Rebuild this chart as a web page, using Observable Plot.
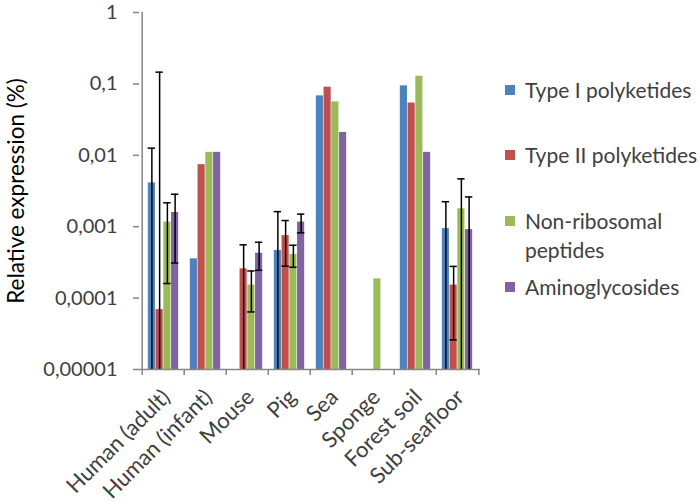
<!DOCTYPE html>
<html>
<head>
<meta charset="utf-8">
<script src="https://cdn.jsdelivr.net/npm/d3@7"></script>
<script src="https://cdn.jsdelivr.net/npm/@observablehq/plot@0.6"></script>
<style>
  html, body { margin: 0; padding: 0; background: #fff; }
  #wrap { position: relative; width: 700px; height: 503px; font-family: Lato, sans-serif; }
  #legend { position: absolute; left: 0; top: 0; width: 700px; height: 503px; pointer-events: none; }
  .li { position: absolute; left: 505px; font-size: 21px; color: #404040; line-height: 29px; }
  .sw { position: absolute; left: 0; top: 10px; width: 10px; height: 10px; }
  .tx { position: absolute; left: 20px; top: 0; white-space: nowrap; }
</style>
</head>
<body>
<div id="wrap"><div id="chart"></div><div id="legend"></div></div>
<script>
// ---- data ----
const categories = ["Human (adult)", "Human (infant)", "Mouse", "Pig", "Sea", "Sponge", "Forest soil", "Sub-seafloor"];
const series = ["Type I polyketides", "Type II polyketides", "Non-ribosomal peptides", "Aminoglycosides"];
const legendLines = [["Type I polyketides"], ["Type II polyketides"], ["Non-ribosomal", "peptides"], ["Aminoglycosides"]];
const colors = ["#4F81BD", "#C0504D", "#9BBB59", "#8064A2"];

const typeI    = [0.0041,   0.000355, null,     0.000465, 0.068,  null,     0.094, 0.00094];
const typeII   = [0.000069, 0.0074,   0.000257, 0.00075,  0.090,  null,     0.054, 0.000152];
const nrp      = [0.00116,  0.011,    0.000152, 0.00041,  0.056,  0.000186, 0.128, 0.00178];
const amino    = [0.00158,  0.011,    0.000425, 0.00116,  0.0209, null,     0.011, 0.00091];

const typeIErr  = [0.0085,  null, null,     0.00116, null, null, null, 0.0013];
const typeIIErr = [0.146,   null, 0.0003,   0.00047, null, null, null, 0.000126];
const nrpErr    = [0.001,   null, 0.000088, 0.00014, null, null, null, 0.0029];
const aminoErr  = [0.00127, null, 0.00018,  0.00034, null, null, null, 0.0017];

const yTicks = [1, 0.1, 0.01, 0.001, 0.0001, 0.00001];
const yTickLabels = ["1", "0,1", "0,01", "0,001", "0,0001", "0,00001"];
const yLabel = "Relative expression (%)";

// ---- build table ----
const values = [typeI, typeII, nrp, amino];
const errs = [typeIErr, typeIIErr, nrpErr, aminoErr];
const yMin = 0.00001, yMax = 1;
const rows = [];
series.forEach((s, si) => categories.forEach((c, ci) => {
  const v = values[si][ci];
  if (v == null) return;
  const e = errs[si][ci];
  rows.push({series: s, si, category: c, value: v, err: e,
    lo: e == null ? null : Math.max(v - e, yMin), hi: e == null ? null : v + e});
}));

// ---- layout ----
const W = 700, H = 503, mL = 139, mR = 220, mT = 12, mB = 134;
const bw = (W - mL - mR) / categories.length;
const barW = 7.75, capW = 8;
const pad = (bw - 4 * barW) / 2;

const marks = [];
series.forEach((s, si) => {
  const d = rows.filter(r => r.si === si);
  const de = d.filter(r => r.err != null);
  const center = -bw / 2 + pad + barW * (si + 0.5);
  marks.push(Plot.barY(d, {x: "category", y1: () => yMin, y2: "value", fill: colors[si],
    insetLeft: pad + barW * si, insetRight: pad + barW * (3 - si)}));
  marks.push(Plot.ruleX(de, {x: "category", y1: "lo", y2: "hi", dx: center, stroke: "#000", strokeWidth: 1.5, clip: true}));
  const capL = pad + barW * si + (barW - capW) / 2;
  marks.push(Plot.tickY(de, {x: "category", y: "hi", stroke: "#000", strokeWidth: 1.5,
    insetLeft: capL, insetRight: bw - capL - capW}));
  marks.push(Plot.tickY(de.filter(r => r.value - r.err > yMin), {x: "category", y: "lo", stroke: "#000", strokeWidth: 1.5,
    insetLeft: capL, insetRight: bw - capL - capW}));
});

const chart = Plot.plot({
  width: W, height: H,
  marginLeft: mL, marginRight: mR, marginTop: mT, marginBottom: mB,
  style: {fontFamily: "Lato, sans-serif", fontSize: "20px", color: "#404040", background: "#fff"},
  x: {domain: categories, padding: 0},
  y: {type: "log", domain: [yMin, yMax]},
  marks: [
    ...marks,
    // axis lines
    Plot.ruleX([yMin], {x: () => categories[0], dx: -bw / 2, y1: yMin, y2: yMax, stroke: "#868686", strokeWidth: 1.5}),
    Plot.ruleY([yMin], {stroke: "#868686", strokeWidth: 1.5}),
    // x boundary ticks
    Plot.ruleX(categories, {x: d => d, dx: -bw / 2, y1: () => yMin, y2: () => yMin, insetTop: 6, stroke: "#868686", strokeWidth: 1.5}),
    Plot.ruleX([categories[categories.length - 1]], {x: d => d, dx: bw / 2, y1: () => yMin, y2: () => yMin, insetTop: 6, stroke: "#868686", strokeWidth: 1.5}),
    Plot.axisY({ticks: yTicks, tickFormat: d => yTickLabels[yTicks.indexOf(d)] ?? "", tickSize: 6, tickPadding: 16,
      stroke: "#868686", strokeWidth: 1.5, label: null}),
    Plot.axisX({tickSize: 0, tickRotate: -45, tickPadding: 24, dx: 3, fontSize: 22, label: null}),
    Plot.text([yLabel], {frameAnchor: "left", textAnchor: "middle", rotate: -90, dx: -123, text: d => d, fontSize: 22.5, fill: "#000"})
  ]
});
document.getElementById("chart").appendChild(chart);

// legend
const leg = document.getElementById("legend");
const legTops = [75, 140, 206, 272];
legendLines.forEach((lines, i) => {
  const item = document.createElement("div");
  item.className = "li";
  item.style.top = legTops[i] + "px";
  const sw = document.createElement("div");
  sw.className = "sw"; sw.style.background = colors[i];
  const tx = document.createElement("div");
  tx.className = "tx"; tx.innerHTML = lines.join("<br>");
  item.appendChild(sw); item.appendChild(tx);
  leg.appendChild(item);
});
</script>
</body>
</html>
